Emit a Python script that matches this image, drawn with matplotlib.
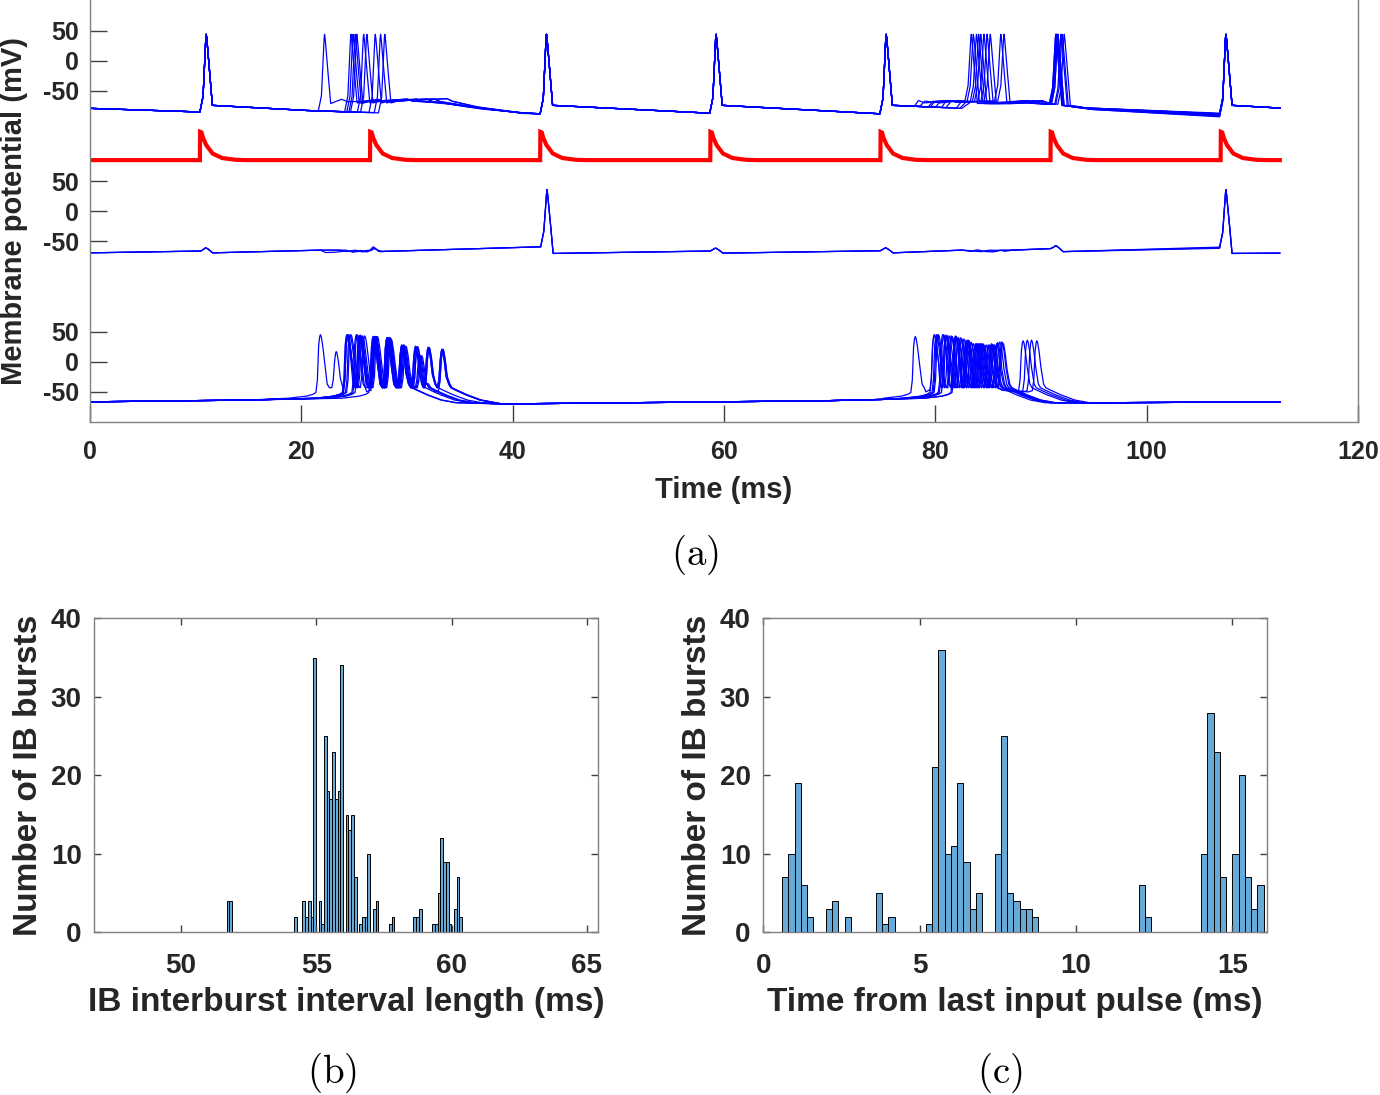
import matplotlib
matplotlib.use('Agg')
import matplotlib.pyplot as plt

plt.rcParams['font.family'] = ['Liberation Sans', 'DejaVu Sans']
plt.rcParams['mathtext.fontset'] = 'cm'

# ======================= DATA =======================
# ---- panel (a) ----
time_ticks = [0, 20, 40, 60, 80, 100, 120]
volt_tick_values = [50, 0, -50]
volt_tick_labels = ['50', '0', '-50']
trace_offsets = [0, -250, -500]          # offsets of the three voltage traces (mV)
input_offset = -165                      # baseline of the red input trace
t_end = 112.6

input_times = [10.4, 26.5, 42.6, 58.7, 74.8, 90.9, 107.0]
input_shape_t = [0.0, 0.02, 0.15, 0.3, 0.6, 1.2, 2.1, 3.4, 4.5]
input_shape_v = [0.0, 47.0, 46.0, 37.0, 25.0, 11.0, 3.5, 0.5, 0.0]

# top trace: anchors (t, mV) and spikes (t, v_pre, v_peak, v_post)
g1_common_anchors = [(0, -79), (20.5, -82.5), (77.5, -75), (112.6, -78.5)]
g1_common_spikes = [(11.0, -85, 44, -74), (43.2, -88, 44, -74),
                    (59.25, -87, 44, -74), (75.35, -88, 44, -74)]
g1_trial_anchors = [
    [(23.2, -68), (23.8, -64), (24.4, -68), (26.5, -67), (28.5, -66), (30.0, -63.5), (30.5, -67), (33.0, -69), (36.0, -77), (40.5, -86),
     (78.0, -76), (78.4, -66), (79.0, -70), (80.0, -68), (81.2, -66), (82.2, -67.5), (84.5, -70), (86.5, -70), (88.4, -66), (89.0, -70), (90.7, -72), (94.0, -78), (106.9, -88)],
    [(25.9, -67), (27.3, -64), (27.8, -67), (29.5, -67), (30.9, -63.5), (31.4, -67.5), (34.0, -72), (37.0, -80), (41.0, -86.5),
     (79.3, -77), (79.8, -67), (80.5, -70), (81.5, -67), (82.8, -68), (85.0, -70), (88.8, -66), (89.4, -71), (90.7, -72), (94.0, -79), (106.9, -89)],
    [(26.5, -67), (28.5, -66), (31.9, -63.5), (32.4, -67.5), (35.0, -74), (38.0, -81), (41.0, -86.5),
     (80.0, -77), (80.5, -67), (81.0, -69), (82.2, -66), (83.2, -68), (86.0, -71), (89.3, -66), (89.8, -71), (90.8, -72), (94.5, -80), (106.9, -90)],
    [(26.4, -67), (29.0, -65.5), (32.6, -63.5), (33.1, -67.5), (35.5, -75), (41.0, -86.5),
     (81.0, -78), (81.5, -67), (82.5, -69), (83.4, -68), (86.5, -71), (89.8, -66.5), (90.3, -71), (90.8, -72), (95.0, -80), (106.9, -91)],
    [(26.6, -67), (29.5, -66), (33.8, -63), (34.3, -67.5), (36.5, -76), (41.0, -87),
     (82.0, -78.5), (82.5, -67), (83.6, -68), (87.0, -71), (90.2, -66.5), (90.6, -71), (95.0, -81), (106.9, -92)],
    [(27.0, -67), (30.0, -63.5), (30.5, -67), (33.5, -70), (37.0, -79), (41.0, -87),
     (82.3, -79), (83.0, -67), (83.9, -68), (88.0, -70), (91.2, -72), (95.0, -81), (106.9, -93)],
    [(27.5, -67), (30.9, -63.5), (31.4, -67), (34.5, -72), (38.0, -81), (41.0, -87),
     (80.6, -77.5), (81.0, -67), (82.0, -68), (84.2, -67.5), (87.0, -70), (88.6, -66), (89.2, -70), (91.3, -72), (94.5, -79), (106.9, -88)],
    [(28.3, -67), (31.9, -63.5), (32.4, -67.5), (35.0, -74), (41.0, -87),
     (82.5, -79), (83.4, -68), (84.5, -68), (87.5, -71), (89.5, -66.5), (90.0, -71), (91.5, -72), (95.0, -80), (106.9, -89.5)],
    [(28.8, -67), (32.6, -63.5), (33.1, -67.5), (36.0, -76), (41.0, -87),
     (78.5, -76), (79.0, -67), (80.0, -69), (81.3, -66), (82.0, -69), (85.0, -67), (88.0, -70), (90.2, -67), (90.6, -69), (94.0, -78), (106.9, -87)],
    [(29.2, -66.5), (33.8, -63), (34.3, -67), (37.0, -78), (41.0, -87.5),
     (79.5, -77), (80.0, -67), (81.5, -66), (83.0, -68), (85.3, -67), (88.5, -70), (90.0, -66), (90.5, -70), (94.0, -78), (106.9, -88)],
]
g1_trial_spikes = [
    [(22.2, -84, 44, -71), (83.4, -67, 44, -71), (91.4, -72, 44, -74), (107.5, -88, 44, -74)],
    [(24.7, -84.5, 44, -70), (83.6, -68, 44, -71), (91.45, -72, 44, -74), (107.5, -89, 44, -74)],
    [(24.9, -85, 44, -70), (83.9, -68, 44, -71), (91.5, -72, 44, -74), (107.5, -90, 44, -74)],
    [(25.1, -85, 44, -71), (84.1, -68, 44, -71), (91.5, -72, 44, -74), (107.5, -91, 44, -74)],
    [(25.25, -85, 44, -70), (84.3, -68, 44, -71), (91.6, -71, 44, -74), (107.5, -92, 44, -74)],
    [(25.9, -85.5, 44, -70), (84.6, -68, 44, -71), (91.9, -72, 44, -74), (107.5, -93, 44, -74)],
    [(26.2, -85.5, 44, -70), (84.9, -68, 44, -71), (92.0, -72, 44, -74), (107.5, -88, 44, -74)],
    [(27.0, -86, 44, -70), (85.2, -68, 44, -71), (92.2, -72, 44, -74), (107.5, -89.5, 44, -74)],
    [(27.5, -86, 44, -70), (86.2, -67, 44, -71), (91.4, -70, 44, -74), (107.5, -87, 44, -74)],
    [(27.9, -86.5, 44, -70), (86.5, -67, 44, -71), (91.6, -70, 44, -74), (107.5, -88, 44, -74)],
]

# middle trace (relative mV)
g3_common_anchors = [(0, -69), (10.5, -66), (10.75, -63), (10.95, -60.5), (11.2, -63), (11.6, -69),
                     (21.8, -64.5), (28.0, -66.5),
                     (58.7, -66), (58.95, -63.5), (59.2, -61), (59.45, -63.5), (59.9, -69.5),
                     (74.8, -65.5), (75.05, -63), (75.3, -60.5), (75.55, -63), (76.0, -69), (82.5, -64.5),
                     (90.9, -62), (91.15, -60), (91.4, -57), (91.65, -60), (92.1, -67), (112.6, -69.5)]
g3_common_spikes = [(43.25, -59, 36, -70)]
g3_trial_anchors = [
    [(22.3, -68.5), (23.2, -68), (24.4, -65.5), (25.3, -67), (26.5, -64.5), (26.8, -59), (27.2, -64), (27.6, -67),
     (83.3, -66.5), (84.0, -64), (84.6, -66.5), (85.2, -64.5), (86.0, -65)],
    [(23.6, -64.5), (24.3, -67), (25.1, -64.5), (25.8, -67.5), (26.6, -65), (26.9, -60.5), (27.3, -66),
     (84.3, -67), (85.0, -65), (85.6, -67), (86.3, -64.5), (87.0, -65)],
    [(24.2, -64.5), (24.9, -68), (25.6, -65), (26.2, -67.5), (26.95, -62), (27.4, -67),
     (85.4, -67.5), (86.1, -64.5), (86.6, -66.5), (87.3, -64.5)],
]
g3_trial_spikes = [[(107.5, -59.5, 36, -70)], [(107.5, -60.5, 36, -70)], [(107.5, -61.5, 36, -70)]]

# bottom (IB) trace: burst spikes per trial, (t, peak mV)
ib_common_anchors = [(0, -66.5), (15, -63.5), (39, -70), (57, -67), (70, -64.5), (75, -62.5), (96, -68), (112.6, -66.5)]
ib_trough = -43
ib_burst1 = [
    [(21.8, 45), (23.3, 17), (24.4, 45), (25.7, 42), (27.0, 40), (28.3, 38), (29.6, 26)],
    [(24.3, 45), (25.5, 43), (26.8, 42), (28.1, 40), (29.5, 28), (30.8, 26), (32.0, 24), (33.3, 20)],
    [(24.4, 45), (25.6, 44), (27.0, 42), (28.4, 40), (29.7, 28), (31.0, 25), (32.1, 22)],
    [(24.6, 45), (25.8, 43), (27.1, 42), (28.3, 40), (29.6, 26), (31.3, 10), (33.4, 20)],
    [(25.3, 45), (26.9, 40), (28.1, 40), (29.5, 28), (30.8, 25), (32.0, 24), (33.4, 21)],
    [(25.5, 44), (27.0, 42), (28.4, 40), (29.8, 26), (31.2, 12)],
    [(26.8, 42), (28.2, 40), (29.6, 26), (31.0, 25), (32.1, 24), (33.3, 21)],
    [(24.4, 45), (25.6, 44), (26.9, 42), (28.3, 40), (29.7, 28)],
    [(24.7, 45), (26.0, 43), (27.2, 42), (28.5, 38), (29.9, 26), (31.4, 10)],
    [(25.2, 45), (27.0, 42), (28.2, 40), (29.5, 25), (30.9, 25)],
]
ib_burst2 = [
    [(78.1, 42), (79.9, 45), (81.0, 43), (82.2, 38), (83.4, 32), (84.6, 28), (85.9, 32)],
    [(79.9, 45), (81.1, 44), (82.4, 40), (83.6, 30), (84.8, 28), (86.1, 33)],
    [(80.1, 45), (81.3, 43), (82.5, 38), (83.8, 30), (85.0, 28), (88.3, 35)],
    [(80.2, 45), (81.6, 42), (82.9, 35), (84.0, 30), (85.3, 28), (86.3, 33)],
    [(80.7, 45), (81.9, 43), (83.1, 36), (84.3, 30), (85.5, 28), (88.7, 36)],
    [(81.0, 44), (82.2, 40), (83.4, 32), (84.5, 30), (85.8, 30)],
    [(80.8, 45), (82.0, 42), (83.2, 35), (84.4, 30), (85.6, 28), (89.1, 36)],
    [(81.9, 42), (83.0, 36), (84.1, 30), (85.3, 30), (86.4, 31)],
    [(80.3, 45), (81.5, 43), (82.7, 38), (83.9, 30), (85.1, 28), (89.6, 35)],
    [(82.0, 40), (83.1, 34), (84.2, 30), (85.4, 29)],
]

# ---- panel (b): IB interburst interval histogram ----
b_bin_width = 0.1
b_bin_left = [51.69, 51.79, 54.19, 54.49, 54.59, 54.69, 54.79, 54.89, 55.09, 55.19, 55.29, 55.39,
              55.49, 55.59, 55.69, 55.79, 55.89, 56.09, 56.19, 56.29, 56.39, 56.59, 56.69, 56.79,
              56.89, 57.09, 57.19, 57.69, 57.79, 58.59, 58.69, 58.79, 59.29, 59.39, 59.49, 59.59,
              59.69, 59.79, 59.89, 60.09, 60.19, 60.29]
b_counts = [4, 4, 2, 4, 2, 4, 2, 35, 4, 1, 25, 18,
            17, 23, 17, 18, 34, 15, 13, 15, 7, 1, 2, 2,
            10, 3, 4, 1, 2, 2, 2, 3, 1, 1, 5, 12,
            9, 9, 1, 3, 7, 2]
b_xticks = [50, 55, 60, 65]

# ---- panel (c): time from last input pulse histogram ----
c_bin_width = 0.2
c_bin_left = [0.6, 0.8, 1.0, 1.2, 1.4, 2.0, 2.2, 2.6, 3.6, 3.8, 4.0, 5.2, 5.4, 5.6, 5.8, 6.0,
              6.2, 6.4, 6.6, 6.8, 7.4, 7.6, 7.8, 8.0, 8.2, 8.4, 8.6, 12.0, 12.2, 14.0, 14.2,
              14.4, 14.6, 15.0, 15.2, 15.4, 15.6, 15.8]
c_counts = [7, 10, 19, 6, 2, 3, 4, 2, 5, 1, 2, 1, 21, 36, 10, 11,
            19, 9, 3, 5, 10, 25, 5, 4, 3, 3, 2, 6, 2, 10, 28,
            23, 7, 10, 20, 7, 3, 6]
c_xticks = [0, 5, 10, 15]
hist_yticks = [0, 10, 20, 30, 40]


# ======================= HELPERS =======================
def sharp_spike(ts, v_pre, v_pk, v_post):
    return [(ts - 0.6, v_pre), (ts - 0.3, v_pre + 26), (ts - 0.04, v_pk - 6), (ts, v_pk),
            (ts + 0.06, v_pk - 8), (ts + 0.36, -27), (ts + 0.58, v_post)]


def ib_spike(ts, v_pre, pk, trough, t_trough):
    rise = 0.42
    tt = t_trough - ts
    return [(ts - rise, v_pre), (ts - 0.28, v_pre + 0.22 * (pk - v_pre)),
            (ts - 0.16, pk - 18), (ts - 0.07, pk - 4), (ts, pk), (ts + 0.08, pk - 3),
            (ts + 0.22, pk - 18), (ts + 0.4, pk - 45), (ts + 0.4 + 0.55 * (tt - 0.4), trough + 6),
            (t_trough, trough)]


def assemble(anchors, spike_pts):
    wins = [(s[0][0], s[-1][0]) for s in spike_pts]
    pts = [p for p in anchors if not any(a <= p[0] <= b for a, b in wins)]
    for s in spike_pts:
        pts += s
    pts.sort(key=lambda p: p[0])
    return [p[0] for p in pts], [p[1] for p in pts]


def ib_trial(bursts):
    extra = []
    spikes = []
    ranges = []
    for burst in bursts:
        t1 = burst[0][0]
        extra += [(t1 - 3.0, -60.5), (t1 - 1.3, -57.0), (t1 - 0.7, -54.0)]
        for k, (ts, pk) in enumerate(burst):
            if k == 0:
                vpre = -51
            else:
                tp = burst[k - 1][0]
                if ts - tp > 1.8:
                    extra += [(tp + 1.3, -47), (ts - 0.8, -50)]
                    vpre = -48
                else:
                    vpre = ib_trough
            if k + 1 < len(burst) and burst[k + 1][0] - ts <= 1.8:
                t_tr = min(ts + 0.85, burst[k + 1][0] - 0.45)
            else:
                t_tr = ts + 0.85
            spikes.append(ib_spike(ts, vpre, pk, ib_trough, t_tr))
        tl = burst[-1][0]
        extra += [(tl + 1.3, -47), (tl + 2.3, -55), (tl + 3.6, -63.5), (tl + 5.0, -68)]
        ranges.append((t1 - 3.0, tl + 5.0))
    common = [p for p in ib_common_anchors if not any(a <= p[0] <= b for a, b in ranges)]
    return assemble(common + extra, spikes)


# ======================= FIGURE =======================
W, H = 1380, 1095
fig = plt.figure(figsize=(W / 100, H / 100), dpi=100)

blue = (0, 0, 1)
spine_col = '#808080'
tick_col = '#404040'
text_col = '#262626'

# ---- panel (a) ----
ax = fig.add_axes([90 / W, 1 - 422 / H, 1268 / W, 422 / H])
off1, off3, off4 = trace_offsets

for anch, spk in zip(g1_trial_anchors, g1_trial_spikes):
    t, v = assemble(g1_common_anchors + anch, [sharp_spike(*s) for s in g1_common_spikes + spk])
    ax.plot(t, [x + off1 for x in v], color=blue, lw=0.9)

for anch, spk in zip(g3_trial_anchors, g3_trial_spikes):
    t, v = assemble(g3_common_anchors + anch, [sharp_spike(*s) for s in g3_common_spikes + spk])
    ax.plot(t, [x + off3 for x in v], color=blue, lw=0.9)

for b1, b2 in zip(ib_burst1, ib_burst2):
    t, v = ib_trial([b1, b2])
    ax.plot(t, [x + off4 for x in v], color=blue, lw=0.9)

# red input trace
rt, rv = [0.0], [0.0]
for tp in input_times:
    for dt, dv in zip(input_shape_t, input_shape_v):
        rt.append(tp + dt)
        rv.append(dv)
rt.append(t_end)
rv.append(0.0)
ax.plot(rt, [x + input_offset for x in rv], color='red', lw=3.0, solid_joinstyle='miter')

ax.set_xlim(0, 120)
ax.set_ylim(-600, 101)
ax.set_xticks(time_ticks)
ax.set_xticklabels([str(x) for x in time_ticks])
yt, yl = [], []
for off in trace_offsets:
    for val, lab in zip(volt_tick_values, volt_tick_labels):
        yt.append(off + val)
        yl.append(lab)
ax.set_yticks(yt)
ax.set_yticklabels(yl)
ax.tick_params(direction='in', length=12, width=1, color=tick_col, labelsize=18,
               labelcolor=text_col)
ax.tick_params(axis='x', pad=13)
ax.tick_params(axis='y', pad=8)
for lab in ax.get_xticklabels() + ax.get_yticklabels():
    lab.set_fontweight('bold')
ax.spines['top'].set_visible(False)
for s in ['left', 'right', 'bottom']:
    ax.spines[s].set_color(spine_col)
    ax.spines[s].set_linewidth(1.0)
ax.set_xlabel('Time (ms)', fontsize=21, fontweight='bold', va='center', color=text_col)
ax.xaxis.set_label_coords(0.5, -(490 - 422) / 422)
ax.set_ylabel('Membrane potential (mV)', fontsize=21, fontweight='bold', va='center', color=text_col)
ax.yaxis.set_label_coords((14 - 90) / 1268, 0.5)

# ---- panels (b), (c) ----
bar_col = '#66AAD7'
hist_specs = [
    (94.3, b_bin_left, b_counts, b_bin_width, (46.8, 65.4), b_xticks, 'IB interburst interval length (ms)'),
    (763.3, c_bin_left, c_counts, c_bin_width, (0, 16.1), c_xticks, 'Time from last input pulse (ms)'),
]
for left_px, lefts, counts, bw, xl, xt, xlabel in hist_specs:
    hx = fig.add_axes([left_px / W, 1 - 932.3 / H, 503.4 / W, 314 / H])
    hx.bar(lefts, counts, width=bw, align='edge', color=bar_col, edgecolor='black', linewidth=0.7)
    hx.set_xlim(*xl)
    hx.set_ylim(0, 40)
    hx.set_xticks(xt)
    hx.set_xticklabels([str(x) for x in xt])
    hx.set_yticks(hist_yticks)
    hx.set_yticklabels([str(y) for y in hist_yticks])
    hx.tick_params(direction='in', length=5, width=1, color=tick_col, labelsize=20,
                   labelcolor=text_col, top=True, right=True)
    hx.tick_params(axis='x', pad=15)
    hx.tick_params(axis='y', pad=9)
    for lab in hx.get_xticklabels() + hx.get_yticklabels():
        lab.set_fontweight('bold')
    for s in hx.spines.values():
        s.set_color(spine_col)
        s.set_linewidth(1.0)
    hx.set_xlabel(xlabel, fontsize=24, fontweight='bold', va='center', color=text_col)
    hx.xaxis.set_label_coords(0.5, -(1003 - 932.3) / 314)
    hx.set_ylabel('Number of IB bursts', fontsize=24, fontweight='bold', va='center', color=text_col)
    hx.yaxis.set_label_coords(-0.131, 0.5)

# panel captions (Computer Modern)
fig.text(695 / W, 1 - 555 / H, r'$\mathrm{(a)}$', fontsize=28, ha='center', va='center')
fig.text(332 / W, 1 - 1073 / H, r'$\mathrm{(b)}$', fontsize=28, ha='center', va='center')
fig.text(1000 / W, 1 - 1073 / H, r'$\mathrm{(c)}$', fontsize=28, ha='center', va='center')

fig.savefig('out.png', dpi=100)
